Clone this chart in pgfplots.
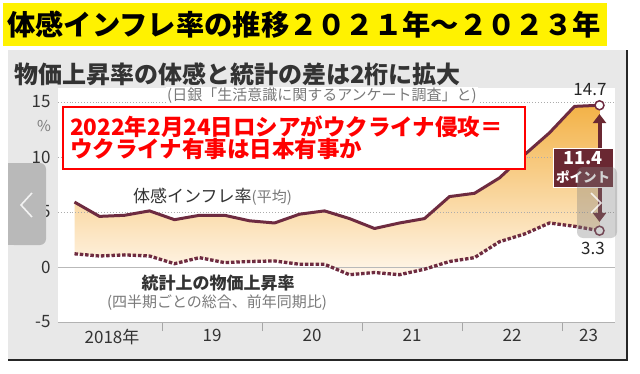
\documentclass[border=0pt]{standalone}
\usepackage{fontspec}
\setmainfont{Noto Sans CJK JP}
\usepackage{pgfplots}
\pgfplotsset{compat=1.18}
\usepackage{pgfplotstable}
\usetikzlibrary{arrows.meta}
\definecolor{maroon}{HTML}{6E2B40}
\definecolor{boxcol}{HTML}{6A2832}
\definecolor{fillTop}{HTML}{F3B247}
\definecolor{fillBot}{HTML}{FFF6EA}
\definecolor{panel}{HTML}{E8E8E8}
\definecolor{txt}{HTML}{333333}
\definecolor{txtg}{HTML}{7A7A7A}
\newcommand{\fs}[1]{\fontsize{#1bp}{#1bp}\selectfont}
\pgfplotstableread{
k perc stat
0 5.9 1.2
1 4.6 1.0
2 4.7 1.1
3 5.1 1.0
4 4.3 0.3
5 4.7 0.85
6 4.7 0.4
7 4.2 0.5
8 4.0 0.55
9 4.8 0.25
10 5.1 0.25
11 4.4 -0.7
12 3.5 -0.5
13 4.0 -0.7
14 4.4 -0.2
15 6.4 0.5
16 6.7 0.85
17 8.1 2.3
18 10.2 3.0
19 12.2 4.0
20 14.6 3.7
21 14.7 3.3
}\datatab
\begin{document}
\begin{tikzpicture}
\path[use as bounding box] (0,0) rectangle (640bp,-374bp);
\begin{scope}[x=1bp,y=-1bp]
 \fill[yellow] (3,3) rectangle (607,46);
 \node[anchor=west, inner sep=0pt, font=\fs{28.3}\bfseries] at (7,25) {体感インフレ率の推移２０２１年～２０２３年};
 \fill[panel] (8,50) rectangle (627,360);
 \draw[line width=2.5bp, black!85] (627,50) -- (627,360) -- (8,360);
 \node[anchor=west, inner sep=0pt, text=txt, font=\fs{24}\bfseries] at (14,74) {物価上昇率の体感と統計の差は2桁に拡大};
 \node[text=txtg, font=\fs{15}] at (44,126) {\%};
\end{scope}
\begin{axis}[
  at={(58bp,-322bp)}, anchor=south west,
  scale only axis, width=557bp, height=234bp,
  xmin=-0.66, xmax=21.62, ymin=-5, ymax=16.27,
  axis line style={draw=none},
  axis background/.style={fill=white},
  clip=false,
  ytick={-5,0,5,10,15},
  yticklabels={-5,0,5,10,15},
  ytick style={draw=none},
  yticklabel style={font=\fs{17}, text=txt, xshift=5bp},
  xtick={3.5,7.5,11.5,15.5,19.5},
  xticklabels={},
  xtick pos=left, ytick pos=left,
  tick align=outside,
  major tick length=9bp,
  xtick style={gray!70, line width=0.9bp},
  extra x ticks={1.5,5.5,9.5,13.5,17.5,20.56},
  extra x tick labels={2018年,19,20,21,22,23},
  extra x tick style={major tick length=0pt, xticklabel style={font=\fs{17}, text=txt, yshift=-4bp}},
]
% shaded gap between the two series (perceived forward, statistical backward)
\addplot[top color=fillTop, bottom color=fillBot, draw=none, forget plot] coordinates {
(0,5.9) (1,4.6) (2,4.7) (3,5.1) (4,4.3) (5,4.7) (6,4.7) (7,4.2) (8,4.0) (9,4.8) (10,5.1)
(11,4.4) (12,3.5) (13,4.0) (14,4.4) (15,6.4) (16,6.7) (17,8.1) (18,10.2) (19,12.2) (20,14.6) (21,14.7)
(21,3.3) (20,3.7) (19,4.0) (18,3.0) (17,2.3) (16,0.85) (15,0.5) (14,-0.2) (13,-0.7) (12,-0.5) (11,-0.7)
(10,0.25) (9,0.25) (8,0.55) (7,0.5) (6,0.4) (5,0.85) (4,0.3) (3,1.0) (2,1.1) (1,1.0) (0,1.2)
} -- cycle;
% grid lines
\draw[gray!65, dotted, line width=0.9bp] (axis cs:-0.66,5) -- (axis cs:21.62,5);
\draw[gray!65, dotted, line width=0.9bp] (axis cs:-0.66,10) -- (axis cs:21.62,10);
\draw[gray!65, dotted, line width=0.9bp] (axis cs:-0.66,15) -- (axis cs:21.62,15);
\draw[gray!55, line width=0.8bp] (axis cs:-0.66,0) -- (axis cs:21.62,0);
\draw[gray!60, line width=0.9bp] (axis cs:-0.66,-5) -- (axis cs:21.62,-5);
% series
\addplot[maroon, line width=3bp, line join=round] table[x=k,y=perc]{\datatab};
\addplot[maroon, line width=3.3bp, dash pattern=on 3.5bp off 1.8bp] table[x=k,y=stat]{\datatab};
\addplot[only marks, mark=*, mark size=4.5bp, mark options={fill=white, draw=maroon, line width=1.5bp}] coordinates {(21,14.7) (21,3.3)};
% annotations
\node[fill=white, inner sep=1pt, text=txtg, font=\fs{15}] at (axis cs:9.9,15.55) {(日銀「生活意識に関するアンケート調査」と)};
\node[draw=red, line width=1.6bp, fill=white, minimum width=462bp, minimum height=62bp, align=left, text=red, font=\fs{22.5}\bfseries, inner xsep=6bp, text width=448bp] at (axis cs:8.78,11.73) {2022年2月24日ロシアがウクライナ侵攻＝\\[-1bp]ウクライナ有事は日本有事か};
\node[anchor=west, inner sep=0pt, text=txt, font=\fs{17}] at (axis cs:2.34,6.36) {体感インフレ率{\color{txtg}\fs{15}(平均)}};
\node[inner sep=0pt, text=txt, font=\fs{17}\bfseries] at (axis cs:5.74,-1.45) {統計上の物価上昇率};
\node[inner sep=0pt, text=txtg, font=\fs{15}] at (axis cs:5.7,-3.2) {(四半期ごとの総合、前年同期比)};
\node[inner sep=0pt, text=black!85, font=\fs{17}] at (axis cs:20.62,16.09) {14.7};
\node[inner sep=0pt, text=black!85, font=\fs{17}] at (axis cs:20.74,1.73) {3.3};
\draw[boxcol, line width=4bp, {Triangle[length=9bp,width=13bp]}-{Triangle[length=9bp,width=13bp]}] (axis cs:21,13.9) -- (axis cs:21,4.1);
\node[fill=boxcol, draw=white, line width=0.8bp, minimum width=60bp, minimum height=39bp, inner sep=0pt] at (axis cs:20.34,9.05) {};
\node[inner sep=0pt, text=white, font=\fs{18}\bfseries] at (axis cs:20.34,9.9) {11.4};
\node[inner sep=0pt, text=white, font=\fs{13.5}\bfseries] at (axis cs:20.34,8.2) {ポイント};
\end{axis}
\begin{scope}[x=1bp,y=-1bp]
 \fill[gray!55, rounded corners=6bp] (8,163) rectangle (46,245);
 \fill[gray!55] (8,163) rectangle (20,245);
 \draw[white!90!gray, line width=1.6bp] (32,193) -- (21,205) -- (32,217);
 \fill[gray, opacity=0.35, rounded corners=6bp] (577,167) rectangle (617,238);
 \draw[white, opacity=0.8, line width=1.5bp] (591,193) -- (601,203) -- (591,213);
\end{scope}
\end{tikzpicture}
\end{document}
